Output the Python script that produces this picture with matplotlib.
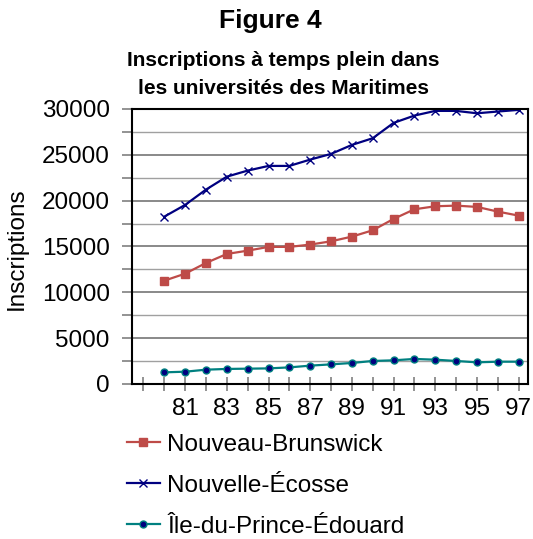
import matplotlib
matplotlib.use("Agg")
import matplotlib.pyplot as plt
from matplotlib.ticker import MultipleLocator

plt.rcParams['font.family'] = ['Liberation Sans', 'DejaVu Sans']

# years 80..97 (tick 79 is left blank like the original)
years = [80, 81, 82, 83, 84, 85, 86, 87, 88, 89, 90, 91, 92, 93, 94, 95, 96, 97]
nb = [11270, 12030, 13200, 14180, 14540, 14950, 14950, 15200, 15560, 16070,
      16760, 18000, 19050, 19380, 19450, 19310, 18800, 18360]
ns = [18250, 19530, 21200, 22610, 23270, 23780, 23780, 24470, 25090, 26070,
      26800, 28470, 29270, 29780, 29780, 29520, 29710, 29890]
pei = [1270, 1340, 1560, 1640, 1670, 1700, 1810, 2000, 2140, 2290,
       2510, 2580, 2730, 2650, 2510, 2360, 2430, 2430]
tick_years = list(range(79, 98))
tick_labels = [str(y) if y % 2 == 1 and y > 79 else "" for y in tick_years]

fig = plt.figure(figsize=(5.33, 5.39), dpi=100)
ax = fig.add_axes([0.2477, 0.2876, 0.7429, 0.5104])

l1, = ax.plot(years, nb, color="#BE4B48", lw=1.6, marker="s", ms=6)
l2, = ax.plot(years, ns, color="#000080", lw=1.6, marker="x", ms=6, mew=1.0)
l3, = ax.plot(years, pei, color="#008080", lw=1.6, marker="o", ms=5,
              mfc="#000080", mec="#008080")

ax.set_xlim(78.45, 97.45)
ax.set_ylim(0, 30000)
ax.set_xticks(tick_years)
ax.set_xticklabels(tick_labels, fontsize=17.5)
ax.yaxis.set_major_locator(MultipleLocator(5000))
ax.yaxis.set_minor_locator(MultipleLocator(2500))
ax.tick_params(axis="y", which="both", direction="out", length=7, color="#808080",
               labelsize=17.5, width=1.2, pad=9)
ax.tick_params(axis="x", direction="inout", length=10, color="#808080", width=1.2, pad=5)
ax.grid(axis="y", which="major", color="#808080", lw=1.3)
ax.grid(axis="y", which="minor", color="#A0A0A0", lw=1.0)
ax.set_axisbelow(True)
for s in ax.spines.values():
    s.set_color("black")
    s.set_linewidth(1.5)

ax.set_ylabel("Inscriptions", fontsize=17.5)
ax.yaxis.set_label_coords(-0.263, 0.49)

fig.text(0.507, 0.961, "Figure 4", ha="center", va="center", fontsize=19, fontweight="bold")
fig.text(0.531, 0.861, "Inscriptions à temps plein dans\nles universités des Maritimes",
         ha="center", va="center", fontsize=15, fontweight="bold", linespacing=1.6)

fig.legend([l1, l2, l3], ["Nouveau-Brunswick", "Nouvelle-Écosse", "Île-du-Prince-Édouard"],
           loc="upper left", bbox_to_anchor=(0.22, 0.213), frameon=False, fontsize=17.5,
           handlelength=1.35, handletextpad=0.3, labelspacing=0.78, borderaxespad=0)

fig.savefig("out.png", dpi=100)
